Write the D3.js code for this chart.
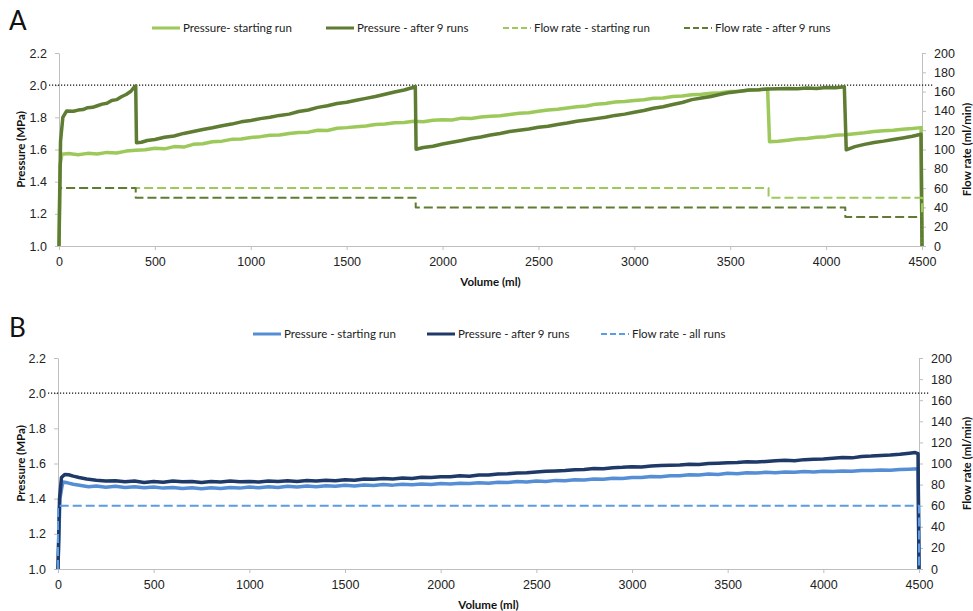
<!DOCTYPE html>
<html>
<head>
    <script src="https://d3js.org/d3.v7.min.js" charset="utf-8"></script>
    <style>
        body { margin: 0; background: #fff; }
        svg { font-family: Lato, "Open Sans", sans-serif; }
        .axis path, .axis line { stroke: #bfbfbf; }
        .axis text { font-size: 12.5px; fill: #222; }
        .title { font-size: 11.5px; font-weight: bold; fill: #111; }
        .legend text { font-size: 11.5px; fill: #222; }
    </style>
</head>
<body>
<script>
    // tick values
    var volTicks = [0, 500, 1000, 1500, 2000, 2500, 3000, 3500, 4000, 4500];
    var pressTicks = [1.0, 1.2, 1.4, 1.6, 1.8, 2.0, 2.2];
    var flowTicks = [0, 20, 40, 60, 80, 100, 120, 140, 160, 180, 200];
    var pressLimit = 2.0;

    // panel A - [volume ml, pressure MPa]
    var pressStartA = [[0,1.00],[5,1.50],[15,1.57],[50,1.575],[100,1.568],[150,1.576],[200,1.572],[250,1.582],[300,1.578],[350,1.59],[400,1.596],[450,1.598],[500,1.608],[550,1.604],[600,1.618],[650,1.615],[700,1.632],[750,1.636],[800,1.648],[850,1.652],[900,1.663],[950,1.665],[1000,1.675],[1050,1.68],[1100,1.688],[1150,1.69],[1200,1.70],[1250,1.706],[1300,1.708],[1350,1.72],[1400,1.718],[1450,1.732],[1500,1.736],[1550,1.742],[1600,1.746],[1650,1.755],[1700,1.758],[1750,1.766],[1800,1.768],[1850,1.775],[1900,1.772],[1950,1.782],[2000,1.785],[2050,1.784],[2100,1.795],[2150,1.793],[2200,1.802],[2250,1.806],[2300,1.81],[2350,1.818],[2400,1.826],[2450,1.828],[2500,1.838],[2550,1.846],[2600,1.85],[2650,1.858],[2700,1.866],[2750,1.87],[2800,1.882],[2850,1.886],[2900,1.895],[2950,1.898],[3000,1.905],[3050,1.91],[3100,1.918],[3150,1.92],[3200,1.93],[3250,1.932],[3300,1.94],[3350,1.943],[3400,1.95],[3450,1.953],[3500,1.96],[3550,1.962],[3600,1.97],[3650,1.972],[3695,1.978],[3705,1.648],[3750,1.652],[3800,1.658],[3850,1.665],[3900,1.668],[3950,1.676],[4000,1.68],[4050,1.688],[4100,1.692],[4150,1.698],[4200,1.704],[4250,1.712],[4300,1.716],[4350,1.72],[4400,1.726],[4450,1.73],[4495,1.736],[4500,1.0]];
    var pressAfterA = [[0,1.00],[8,1.65],[20,1.80],[40,1.84],[75,1.838],[100,1.845],[125,1.848],[150,1.86],[175,1.862],[200,1.872],[225,1.882],[250,1.888],[275,1.905],[300,1.91],[325,1.928],[350,1.942],[375,1.962],[390,1.985],[400,1.995],[404,1.642],[430,1.645],[460,1.656],[500,1.662],[550,1.676],[600,1.684],[650,1.70],[700,1.712],[750,1.724],[800,1.735],[850,1.748],[900,1.758],[950,1.772],[1000,1.78],[1050,1.792],[1100,1.80],[1150,1.812],[1200,1.82],[1250,1.836],[1300,1.846],[1350,1.862],[1400,1.872],[1450,1.886],[1500,1.894],[1550,1.906],[1600,1.918],[1650,1.93],[1700,1.944],[1750,1.958],[1800,1.97],[1840,1.984],[1858,1.992],[1862,1.602],[1900,1.612],[1950,1.62],[2000,1.634],[2050,1.645],[2100,1.656],[2150,1.668],[2200,1.678],[2250,1.69],[2300,1.70],[2350,1.712],[2400,1.72],[2450,1.728],[2500,1.738],[2550,1.745],[2600,1.756],[2650,1.765],[2700,1.776],[2750,1.784],[2800,1.792],[2850,1.80],[2900,1.812],[2950,1.82],[3000,1.832],[3050,1.842],[3100,1.856],[3150,1.866],[3200,1.88],[3250,1.892],[3300,1.91],[3350,1.92],[3400,1.93],[3450,1.944],[3500,1.955],[3550,1.962],[3600,1.97],[3650,1.972],[3700,1.976],[3750,1.978],[3800,1.98],[3850,1.978],[3900,1.982],[3950,1.98],[4000,1.985],[4050,1.984],[4095,1.99],[4105,1.598],[4150,1.618],[4200,1.632],[4250,1.644],[4300,1.652],[4350,1.662],[4400,1.672],[4450,1.682],[4495,1.695],[4500,1.0]];
    // [volume ml, flow ml/min]
    var flowStartA = [[0,0],[0,60],[3700,60],[3700,50],[4500,50],[4500,0]];
    var flowAfterA = [[0,0],[0,60],[400,60],[400,50],[1860,50],[1860,40],[4100,40],[4100,30],[4500,30],[4500,0]];

    // panel B
    var pressStartB = [[0,1.00],[10,1.40],[25,1.495],[50,1.49],[80,1.482],[120,1.475],[160,1.468],[200,1.472],[250,1.465],[300,1.47],[350,1.464],[400,1.468],[450,1.462],[500,1.466],[550,1.46],[600,1.464],[650,1.458],[700,1.462],[750,1.456],[800,1.462],[850,1.458],[900,1.464],[950,1.46],[1000,1.466],[1050,1.462],[1100,1.468],[1150,1.464],[1200,1.47],[1250,1.466],[1300,1.472],[1350,1.468],[1400,1.474],[1450,1.47],[1500,1.476],[1550,1.472],[1600,1.478],[1650,1.475],[1700,1.48],[1750,1.477],[1800,1.482],[1850,1.479],[1900,1.484],[1950,1.481],[2000,1.486],[2050,1.483],[2100,1.488],[2150,1.486],[2200,1.49],[2250,1.488],[2300,1.494],[2350,1.492],[2400,1.497],[2450,1.495],[2500,1.5],[2550,1.498],[2600,1.504],[2650,1.502],[2700,1.508],[2750,1.506],[2800,1.512],[2850,1.51],[2900,1.516],[2950,1.515],[3000,1.52],[3050,1.52],[3100,1.526],[3150,1.524],[3200,1.53],[3250,1.53],[3300,1.536],[3350,1.535],[3400,1.54],[3450,1.538],[3500,1.544],[3550,1.542],[3600,1.548],[3650,1.546],[3700,1.55],[3750,1.548],[3800,1.552],[3850,1.55],[3900,1.554],[3950,1.552],[4000,1.556],[4050,1.555],[4100,1.558],[4150,1.556],[4200,1.56],[4250,1.56],[4300,1.563],[4350,1.562],[4400,1.566],[4450,1.568],[4495,1.57],[4500,1.0]];
    var pressAfterB = [[0,1.00],[8,1.40],[18,1.52],[35,1.538],[55,1.536],[80,1.528],[110,1.52],[150,1.512],[200,1.505],[250,1.50],[300,1.502],[350,1.496],[400,1.50],[450,1.492],[500,1.498],[550,1.494],[600,1.50],[650,1.496],[700,1.498],[750,1.492],[800,1.498],[850,1.495],[900,1.50],[950,1.496],[1000,1.498],[1050,1.495],[1100,1.50],[1150,1.497],[1200,1.502],[1250,1.498],[1300,1.503],[1350,1.50],[1400,1.505],[1450,1.502],[1500,1.508],[1550,1.505],[1600,1.512],[1650,1.51],[1700,1.515],[1750,1.512],[1800,1.518],[1850,1.515],[1900,1.522],[1950,1.52],[2000,1.525],[2050,1.524],[2100,1.53],[2150,1.528],[2200,1.535],[2250,1.534],[2300,1.54],[2350,1.542],[2400,1.546],[2450,1.548],[2500,1.552],[2550,1.556],[2600,1.558],[2650,1.56],[2700,1.565],[2750,1.566],[2800,1.572],[2850,1.57],[2900,1.576],[2950,1.578],[3000,1.582],[3050,1.58],[3100,1.586],[3150,1.588],[3200,1.59],[3250,1.592],[3300,1.596],[3350,1.594],[3400,1.6],[3450,1.602],[3500,1.604],[3550,1.606],[3600,1.61],[3650,1.608],[3700,1.612],[3750,1.616],[3800,1.618],[3850,1.616],[3900,1.622],[3950,1.624],[4000,1.626],[4050,1.63],[4100,1.634],[4150,1.632],[4200,1.64],[4250,1.642],[4300,1.646],[4350,1.648],[4400,1.652],[4450,1.658],[4480,1.662],[4495,1.656],[4500,1.0]];
    var flowAllB = [[0,0],[0,60],[4500,60],[4500,0]];

    var svg = d3.select("body").append("svg")
        .attr("width", 973)
        .attr("height", 611);

    function drawPanel(p) {
        var x = d3.scaleLinear().domain([0, 4500]).range([p.left, p.right]),
            y = d3.scaleLinear().domain([1.0, 2.2]).range([p.bottom, p.top]),
            yf = d3.scaleLinear().domain([0, 200]).range([p.bottom, p.top]);

        var g = svg.append("g");

        // axes
        g.append("g").attr("class", "axis")
            .attr("transform", "translate(0," + p.bottom + ")")
            .call(d3.axisBottom(x).tickValues(volTicks).tickFormat(d3.format("d")).tickSize(4).tickSizeOuter(0).tickPadding(7));
        g.append("g").attr("class", "axis")
            .attr("transform", "translate(" + p.left + ",0)")
            .call(d3.axisLeft(y).tickValues(pressTicks).tickFormat(d3.format(".1f")).tickSize(4).tickSizeOuter(0).tickPadding(8));
        g.append("g").attr("class", "axis")
            .attr("transform", "translate(" + p.right + ",0)")
            .call(d3.axisRight(yf).tickValues(flowTicks).tickSize(4).tickSizeOuter(0).tickPadding(8));

        // 2.0 MPa limit
        g.append("line")
            .attr("x1", p.left - 10).attr("x2", p.right + 11)
            .attr("y1", y(pressLimit)).attr("y2", y(pressLimit))
            .style("stroke", "#111").style("stroke-width", 1.2)
            .style("stroke-dasharray", "1.2,1.8");

        var lineP = d3.line().x(function (d) { return x(d[0]); }).y(function (d) { return y(d[1]); });
        var lineF = d3.line().x(function (d) { return x(d[0]); }).y(function (d) { return yf(d[1]); });

        p.series.forEach(function (s) {
            g.append("path")
                .datum(s.data)
                .attr("d", s.flow ? lineF : lineP)
                .style("fill", "none")
                .style("stroke", s.color)
                .style("stroke-width", s.flow ? 2 : 3.5)
                .style("stroke-linejoin", "round")
                .style("stroke-dasharray", s.flow ? "9,4" : null);
        });

        // titles
        g.append("text").attr("class", "title")
            .attr("x", (p.left + p.right) / 2).attr("y", p.bottom + 40)
            .attr("text-anchor", "middle").text("Volume (ml)");
        g.append("text").attr("class", "title")
            .attr("transform", "translate(25," + (p.top + p.bottom) / 2 + ") rotate(-90)")
            .attr("text-anchor", "middle").text("Pressure (MPa)");
        g.append("text").attr("class", "title")
            .attr("transform", "translate(971," + (p.top + p.bottom) / 2 + ") rotate(-90)")
            .attr("text-anchor", "middle").text("Flow rate (ml/min)");

        // panel letter
        svg.append("text").attr("x", 9).attr("y", p.letterY)
            .style("font-size", "26px").style("fill", "#111").text(p.letter);

        // legend
        var lg = g.append("g").attr("class", "legend");
        p.series.forEach(function (s) {
            lg.append("line")
                .attr("x1", s.lx).attr("x2", s.lx + 28)
                .attr("y1", p.legendY).attr("y2", p.legendY)
                .style("stroke", s.color)
                .style("stroke-width", s.flow ? 2 : 3)
                .style("stroke-dasharray", s.flow ? "6,3" : null);
            lg.append("text")
                .attr("x", s.lx + 31).attr("y", p.legendY + 4)
                .text(s.name);
        });
    }

    drawPanel({
        letter: "A", letterY: 30, legendY: 28,
        left: 59, right: 922, top: 53, bottom: 246,
        series: [
            { name: "Pressure- starting run", data: pressStartA, color: "#9dc95b", lx: 152 },
            { name: "Pressure - after 9 runs", data: pressAfterA, color: "#5e7c32", lx: 326 },
            { name: "Flow rate - starting run", data: flowStartA, color: "#9dc95b", flow: true, lx: 503 },
            { name: "Flow rate - after 9 runs", data: flowAfterA, color: "#5e7c32", flow: true, lx: 684 }
        ]
    });

    drawPanel({
        letter: "B", letterY: 337, legendY: 334,
        left: 58, right: 919, top: 358, bottom: 569,
        series: [
            { name: "Pressure - starting run", data: pressStartB, color: "#558ed5", lx: 253 },
            { name: "Pressure - after 9 runs", data: pressAfterB, color: "#1f3a68", lx: 427 },
            { name: "Flow rate - all runs", data: flowAllB, color: "#5a9ce6", flow: true, lx: 601 }
        ]
    });
</script>
</body>
</html>
